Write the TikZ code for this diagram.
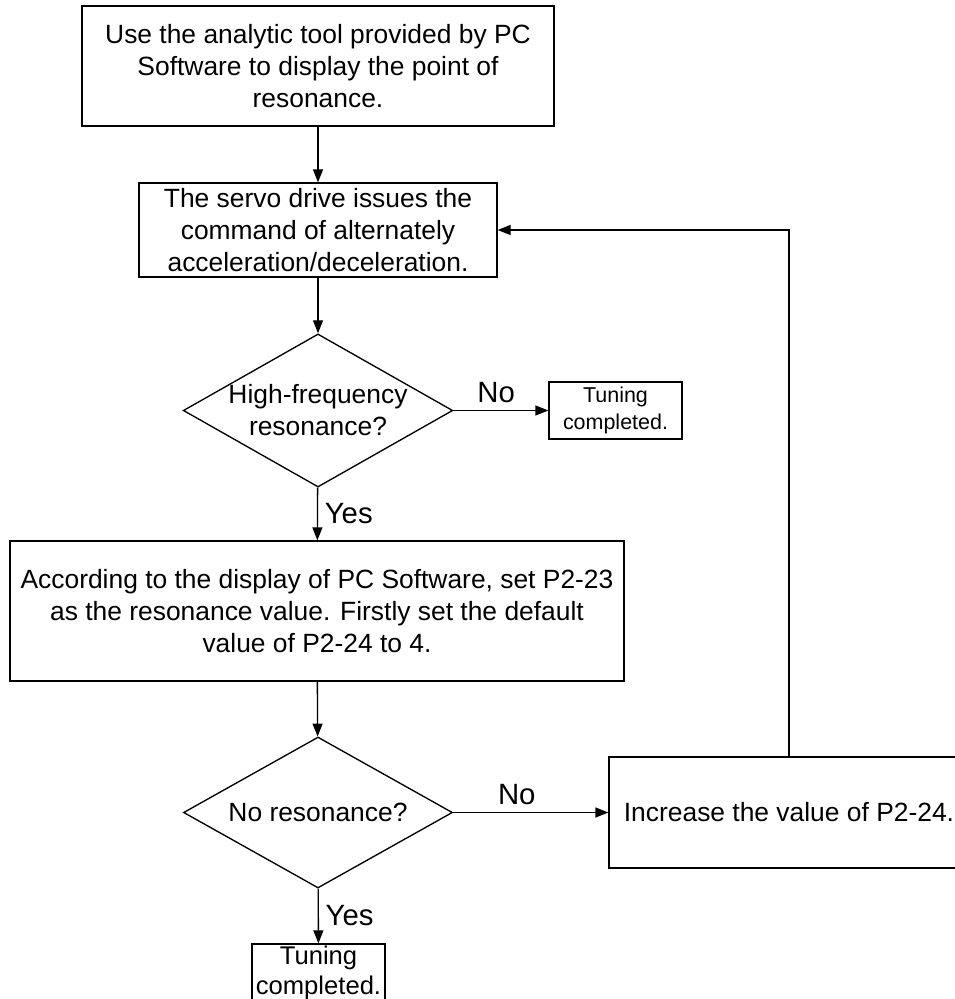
\documentclass[tikz,border=0pt]{standalone}
\usepackage{fontspec}
\setmainfont{Liberation Sans}
\usetikzlibrary{arrows.meta, shapes.geometric}

\begin{document}
\begin{tikzpicture}[x=0.75pt, y=-0.75pt, line width=1pt,
    every node/.style={font=\fontsize{19.8}{24}\selectfont},
    box/.style={draw, rectangle, align=center, inner sep=0pt},
    decision/.style={draw, diamond, align=center, inner sep=0pt, aspect=1.76},
    tag/.style={font=\fontsize{22}{26}\selectfont, inner sep=1pt},
    flow/.style={-{Triangle[length=9.75pt, width=7.5pt]}}]
    \clip (0,0) rectangle (955,999);
    % steps of the tuning
    \node[box, minimum width=354pt, minimum height=90pt] (analyse) at (318,66) {Use the analytic tool provided by PC\\ Software to display the point of\\ resonance.};
    \node[box, minimum width=268.5pt, minimum height=70.5pt] (servo) at (318,230) {The servo drive issues the\\ command of alternately\\ acceleration/deceleration.};
    \node[decision, minimum width=201.75pt, minimum height=114.75pt] (highres) at (318,410.5) {High-frequency\\ resonance?};
    \node[box, minimum width=99.75pt, minimum height=42.75pt, font=\fontsize{16.1}{20}\selectfont] (doneA) at (615.5,410.5) {Tuning\\ completed.};
    \node[box, minimum width=460.5pt, minimum height=105pt] (setnotch) at (317,611) {According to the display of PC Software, set P2-23\\ as the resonance value. Firstly set the default\\ value of P2-24 to 4.};
    \node[decision, minimum width=201.75pt, minimum height=113.25pt] (nores) at (318,812.5) {No resonance?};
    \node[box, minimum width=270pt, minimum height=83.25pt] (increase) at (789,812.5) {Increase the value of P2-24.};
    \node[box, minimum width=99.75pt, minimum height=43.5pt, font=\fontsize{19.2}{23}\selectfont] (doneB) at (318.5,973) {Tuning\\ completed.};
    % connectors
    \draw[flow] (analyse) -- (servo);
    \draw[flow] (servo) -- (highres);
    \draw[flow] (highres) -- node[tag, above=4pt, pos=0.45] {No} (doneA);
    \draw[flow] (highres) -- node[tag, right=4pt] {Yes} (setnotch);
    \draw[flow] (setnotch) -- (nores);
    \draw[flow] (nores) -- node[tag, above=4pt, pos=0.41] {No} (increase);
    \draw[flow] (nores) -- node[tag, right=4pt] {Yes} (doneB);
    \draw[flow] (increase.north) |- (servo.east);
\end{tikzpicture}
\end{document}
